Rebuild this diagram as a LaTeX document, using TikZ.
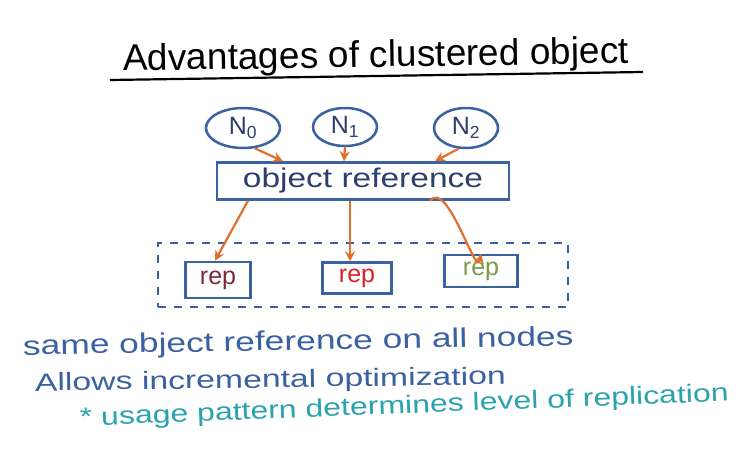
\documentclass[tikz,border=0pt]{standalone}
\usepackage{fontspec}
\setmainfont{Liberation Sans}
\usetikzlibrary{arrows.meta,shapes.geometric}
\definecolor{ink}{HTML}{2E3F6E}
\definecolor{edge}{HTML}{3B62A0}
\definecolor{arr}{HTML}{E0702A}
\definecolor{teal}{HTML}{2AA3AE}
\definecolor{maroon}{HTML}{7A2A3A}
\definecolor{redrep}{HTML}{D8202A}
\definecolor{olive}{HTML}{7A9A48}
\begin{document}
\begin{tikzpicture}[x=1pt,y=-1pt,
  nd/.style={ellipse,draw=edge,line width=2.5pt,text=ink,font=\fontsize{25}{25}\selectfont,inner sep=0pt},
  box/.style={rectangle,draw=edge,line width=2.5pt,inner sep=0pt},
  conn/.style={draw=arr,line width=2.2pt,-{Stealth[length=10pt,width=10pt]}},
  txt/.style={anchor=base west,inner sep=0pt}]
\useasboundingbox (0,0) rectangle (746,471);
\fill[white] (0,0) rectangle (746,471);
% title
\node[txt,rotate=0.9,font=\fontsize{37}{37}\selectfont] (title) at (123,71) {Advantages of clustered object};
\coordinate (ul1) at (110,80);
\coordinate (ul2) at (643,72);
\draw[line width=2.2pt] (ul1) -- (ul2);
% nodes
\node[nd,minimum width=74pt,minimum height=40pt] (n0) at (243,128) {N\textsubscript{0}};
\node[nd,minimum width=64pt,minimum height=38pt] (n1) at (345,127) {N\textsubscript{1}};
\node[nd,minimum width=64pt,minimum height=40pt] (n2) at (466,128) {N\textsubscript{2}};
% object reference
\node[box,minimum width=292pt,minimum height=37pt,text=ink,font=\fontsize{27}{27}\selectfont] (obj) at (363,181) {\scalebox{1.24}[1]{object reference}};
\draw[conn] (n0.-60) -- ([xshift=-80pt]obj.north);
\draw[conn] (n1.south) -- ([xshift=-19pt]obj.north);
\draw[conn] (n2.-110) -- ([xshift=72pt]obj.north);
% replicas
\node[draw=edge,line width=2.5pt,dash pattern=on 8pt off 8pt,minimum width=410pt,minimum height=64pt,inner sep=0pt] (grp) at (363,275) {};
\node[box,minimum width=65pt,minimum height=36pt,text=maroon,font=\fontsize{25}{25}\selectfont] (r0) at (218,280) {rep};
\node[box,minimum width=69pt,minimum height=31pt,text=redrep,font=\fontsize{25}{25}\selectfont] (r1) at (357,278) {rep};
\node[box,minimum width=73pt,minimum height=32pt,text=olive,font=\fontsize{25}{25}\selectfont] (r2) at (481,271) {rep};
\draw[conn] ([xshift=-115pt]obj.south) -- ([xshift=-3pt]r0.north);
\draw[conn] ([xshift=-13pt]obj.south) -- ([xshift=-7pt]r1.north);
\draw[conn] ([xshift=67pt]obj.south) .. controls ([xshift=85pt,yshift=22pt]obj.south) and ([xshift=-5pt,yshift=-25pt]r2.north) .. (r2.north);
% notes
\node[txt,rotate=1,text=edge,font=\fontsize{27}{27}\selectfont] (l1) at (23,355) {\scalebox{1.31}[1]{same object reference on all nodes}};
\node[txt,rotate=0.8,text=edge,font=\fontsize{25}{25}\selectfont] (l2) at (35,391) {\scalebox{1.35}[1]{Allows incremental optimization}};
\node[txt,rotate=2.2,text=teal,font=\fontsize{25}{25}\selectfont] (l3) at (80,426) {\scalebox{1.28}[1]{* usage pattern determines level of replication}};
\end{tikzpicture}
\end{document}
